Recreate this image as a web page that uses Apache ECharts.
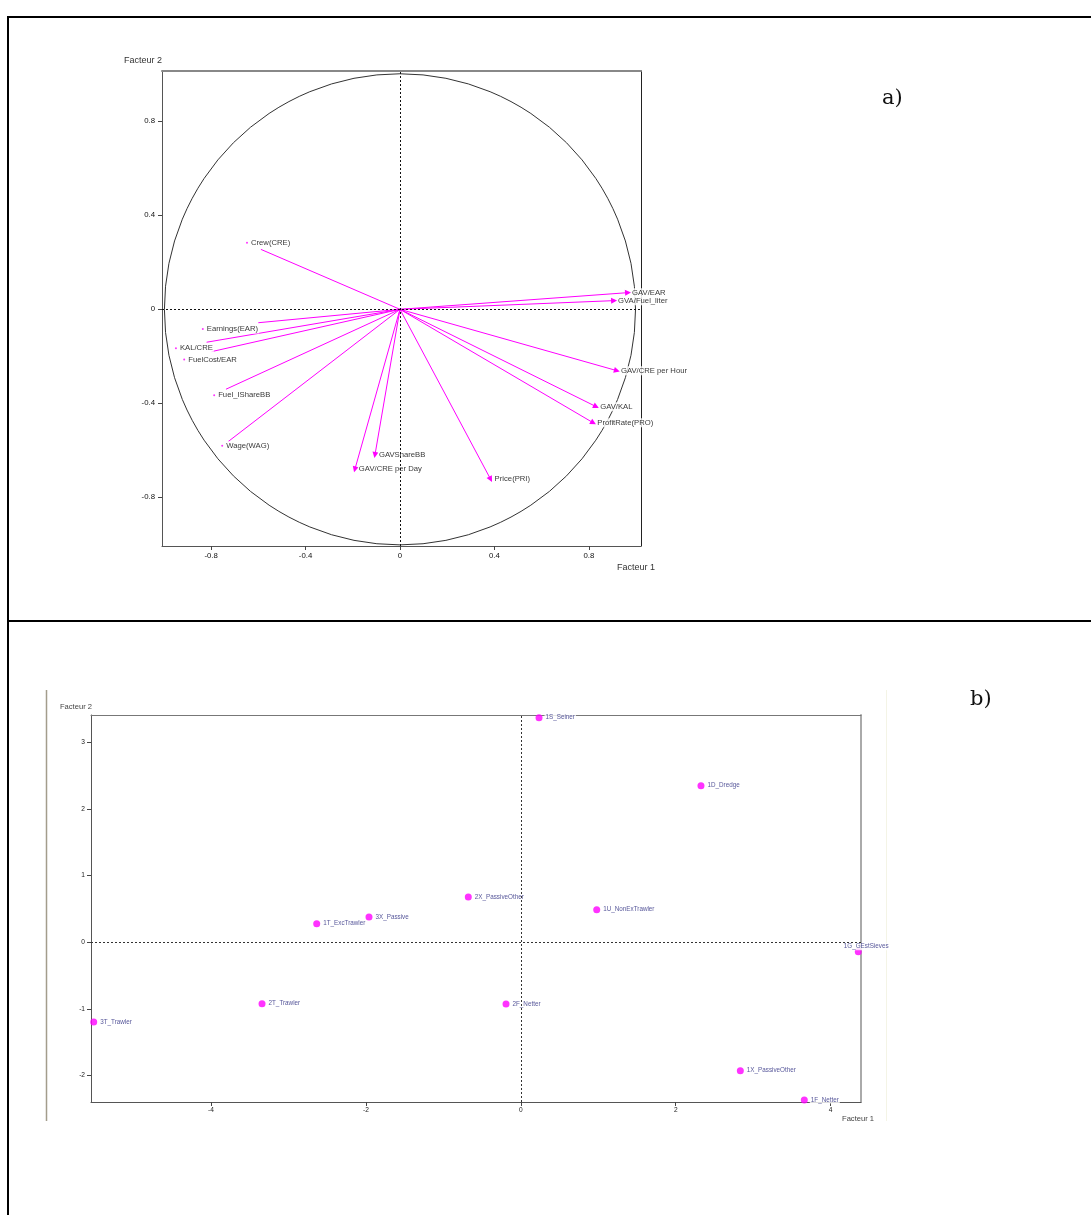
<!DOCTYPE html>
<html>
<head>
<meta charset="utf-8">
<script src="https://cdn.jsdelivr.net/npm/echarts@6/dist/echarts.min.js"></script>
<style>
  html, body { margin: 0; padding: 0; background: #fff; }
  #c { width: 1091px; height: 1215px; }
</style>
</head>
<body>
<div id="c"></div>
<script>
// ---- a) variables on the correlation circle (Facteur 1 x Facteur 2) ----
const varNames = ['Crew(CRE)', 'Earnings(EAR)', 'KAL/CRE', 'FuelCost/EAR', 'Fuel_IShareBB', 'Wage(WAG)',
  'GAVShareBB', 'GAV/CRE per Day', 'Price(PRI)', 'ProfitRate(PRO)', 'GAV/KAL', 'GAV/CRE per Hour',
  'GVA/Fuel_liter', 'GAV/EAR'];
const varF1 = [-0.648, -0.835, -0.949, -0.914, -0.787, -0.753, -0.106, -0.191, 0.384, 0.819, 0.831, 0.919, 0.907, 0.966];
const varF2 = [0.283, -0.084, -0.166, -0.213, -0.366, -0.580, -0.620, -0.681, -0.723, -0.483, -0.414, -0.261, 0.037, 0.071];
// end point of each drawn shaft (a few stop short of their variable)
const shaftF1 = [-0.589, -0.600, -0.819, -0.798, -0.737, -0.728, -0.106, -0.191, 0.384, 0.819, 0.831, 0.919, 0.907, 0.966];
const shaftF2 = [0.255, -0.057, -0.140, -0.180, -0.340, -0.563, -0.620, -0.681, -0.723, -0.483, -0.414, -0.261, 0.037, 0.071];
const ticksA = [-0.8, -0.4, 0, 0.4, 0.8];

// ---- b) fleet segments on the first factorial plane ----
const segNames = ['1S_Seiner', '1D_Dredge', '2X_PassiveOther', '1U_NonExTrawler', '1G_GEstSieves', '3X_Passive',
  '1T_ExcTrawler', '2T_Trawler', '3T_Trawler', '2F_Netter', '1X_PassiveOther', '1F_Netter'];
const segF1 = [0.235, 2.326, -0.678, 0.980, 4.357, -1.960, -2.635, -3.341, -5.514, -0.191, 2.834, 3.660];
const segF2 = [3.369, 2.349, 0.679, 0.489, -0.141, 0.379, 0.279, -0.921, -1.195, -0.925, -1.926, -2.365];
const ticksBx = [-4, -2, 0, 2, 4];
const ticksBy = [-2, -1, 0, 1, 2, 3];

// label nudges (keeps the right-most label inside the frame)
const segLabelOffset = { '1G_GEstSieves': [-21, -5] };

const MAGENTA = '#ff00ff';
const FONT = '"Liberation Sans", Arial, sans-serif';

// shafts: headed when they reach their variable, plain otherwise
const headed = [], plain = [];
varNames.forEach((n, i) => {
  const item = { coords: [[0, 0], [shaftF1[i], shaftF2[i]]] };
  if (shaftF1[i] === varF1[i] && shaftF2[i] === varF2[i]) headed.push(item); else plain.push(item);
});

function valueAxis(grid, min, max, ticks, opts) {
  return Object.assign({
    type: 'value', gridIndex: grid, min: min, max: max, scale: true,
    splitLine: { show: false },
    axisLine: { show: true, onZero: false, lineStyle: { color: '#555', width: 1 } },
    axisTick: { show: true, customValues: ticks, length: 4, lineStyle: { color: '#444' } },
    axisLabel: { show: true, customValues: ticks, color: '#111', fontFamily: FONT }
  }, opts);
}
function frameAxis(grid, min, max, pos, color, width) {
  return {
    type: 'value', gridIndex: grid, min: min, max: max, position: pos,
    splitLine: { show: false }, axisTick: { show: false }, axisLabel: { show: false },
    axisLine: { show: true, onZero: false, lineStyle: { color: color, width: width } }
  };
}

const zeroLines = (color) => ({
  silent: true, symbol: ['none', 'none'], label: { show: false },
  lineStyle: { color: color, width: 1, type: [2, 2] },
  emphasis: { disabled: true },
  data: [{ xAxis: 0 }, { yAxis: 0 }]
});

const option = {
  animation: false,
  backgroundColor: '#fff',
  grid: [
    { left: 162, top: 71, width: 479, height: 475 },
    { left: 91, top: 715, width: 770, height: 387 }
  ],
  xAxis: [
    valueAxis(0, -1.008, 1.021, ticksA, { axisLabel: { customValues: ticksA, color: '#111', fontSize: 7.8, margin: 6, fontFamily: FONT } }),
    frameAxis(0, -1.008, 1.021, 'top', '#888', 2),
    valueAxis(1, -5.549, 4.392, ticksBx, { axisLabel: { customValues: ticksBx, color: '#222', fontSize: 6.6, margin: 5, fontFamily: FONT } }),
    frameAxis(1, -5.549, 4.392, 'top', '#777', 1)
  ],
  yAxis: [
    valueAxis(0, -1.007, 1.014, ticksA, { axisLabel: { customValues: ticksA, color: '#111', fontSize: 7.8, margin: 7, fontFamily: FONT } }),
    frameAxis(0, -1.007, 1.014, 'right', '#222', 1),
    valueAxis(1, -2.395, 3.409, ticksBy, { axisLabel: { customValues: ticksBy, color: '#222', fontSize: 6.6, margin: 6, fontFamily: FONT } }),
    frameAxis(1, -2.395, 3.409, 'right', '#aaa', 2)
  ],
  series: [
    {
      // unit correlation circle and the dotted zero lines
      type: 'custom', xAxisIndex: 0, yAxisIndex: 0, silent: true, z: 1,
      data: [[0, 0, 1]],
      renderItem: function (params, api) {
        const c = api.coord([api.value(0), api.value(1)]);
        const s = api.size([api.value(2), api.value(2)]);
        return {
          type: 'circle',
          shape: { cx: c[0], cy: c[1], r: (s[0] + s[1]) / 2 },
          style: { fill: 'none', stroke: '#333', lineWidth: 1 }
        };
      },
      markLine: zeroLines('#111')
    },
    {
      type: 'lines', coordinateSystem: 'cartesian2d', xAxisIndex: 0, yAxisIndex: 0, silent: true, z: 2,
      symbol: ['none', 'none'],
      lineStyle: { color: MAGENTA, width: 1, opacity: 1 },
      data: plain
    },
    {
      type: 'lines', coordinateSystem: 'cartesian2d', xAxisIndex: 0, yAxisIndex: 0, silent: true, z: 2,
      symbol: ['none', 'triangle'], symbolSize: 6,
      lineStyle: { color: MAGENTA, width: 1, opacity: 1 },
      itemStyle: { color: MAGENTA },
      data: headed
    },
    {
      type: 'scatter', xAxisIndex: 0, yAxisIndex: 0, silent: true, z: 3,
      symbol: 'circle', symbolSize: 2,
      itemStyle: { color: MAGENTA },
      data: varNames.map((n, i) => ({ name: n, value: [varF1[i], varF2[i]] })),
      label: {
        show: true, position: 'right', distance: 2,
        formatter: '{b}', color: '#000', fontSize: 7.7, fontFamily: FONT,
        backgroundColor: '#fff', padding: [1, 1, 0, 1]
      }
    },
    {
      type: 'scatter', xAxisIndex: 2, yAxisIndex: 2, silent: true, z: 3,
      symbol: 'circle', symbolSize: 7,
      itemStyle: { color: MAGENTA },
      data: segNames.map((n, i) => {
        const d = { name: n, value: [segF1[i], segF2[i]] };
        if (segLabelOffset[n]) d.label = { offset: segLabelOffset[n] };
        return d;
      }),
      label: {
        show: true, position: 'right', distance: 2,
        formatter: '{b}', color: '#2a2a80', fontSize: 6.3, fontFamily: FONT,
        backgroundColor: '#fff', padding: [1, 1, 0, 1]
      },
      markLine: zeroLines('#333')
    }
  ],
  graphic: [
    // table rules around the two panels
    { type: 'line', shape: { x1: 7, y1: 17, x2: 1091, y2: 17 }, style: { stroke: '#000', lineWidth: 2 }, silent: true },
    { type: 'line', shape: { x1: 8, y1: 16, x2: 8, y2: 1215 }, style: { stroke: '#000', lineWidth: 2 }, silent: true },
    { type: 'line', shape: { x1: 7, y1: 621, x2: 1091, y2: 621 }, style: { stroke: '#000', lineWidth: 2 }, silent: true },
    // frame of the lower figure
    { type: 'line', shape: { x1: 46.5, y1: 690, x2: 46.5, y2: 1121 }, style: { stroke: '#a39d8c', lineWidth: 1.5 }, silent: true },
    { type: 'line', shape: { x1: 886.5, y1: 690, x2: 886.5, y2: 1121 }, style: { stroke: '#f4f4e6', lineWidth: 1 }, silent: true },
    // panel letters
    { type: 'text', x: 882, y: 99, style: { text: 'a)', fontSize: 21, fontFamily: '"DejaVu Serif", serif', fill: '#111', verticalAlign: 'middle' }, silent: true },
    { type: 'text', x: 970, y: 700, style: { text: 'b)', fontSize: 21, fontFamily: '"DejaVu Serif", serif', fill: '#111', verticalAlign: 'middle' }, silent: true },
    // axis titles
    { type: 'text', x: 162, y: 61, style: { text: 'Facteur 2', fontSize: 9, fontFamily: FONT, fill: '#333', align: 'right', verticalAlign: 'middle' }, silent: true },
    { type: 'text', x: 617, y: 568, style: { text: 'Facteur 1', fontSize: 9, fontFamily: FONT, fill: '#333', align: 'left', verticalAlign: 'middle' }, silent: true },
    { type: 'text', x: 92, y: 707, style: { text: 'Facteur 2', fontSize: 7.6, fontFamily: FONT, fill: '#444', align: 'right', verticalAlign: 'middle' }, silent: true },
    { type: 'text', x: 842, y: 1119, style: { text: 'Facteur 1', fontSize: 7.6, fontFamily: FONT, fill: '#444', align: 'left', verticalAlign: 'middle' }, silent: true }
  ]
};

echarts.init(document.getElementById('c'), null, { renderer: 'canvas' }).setOption(option);
</script>
</body>
</html>
